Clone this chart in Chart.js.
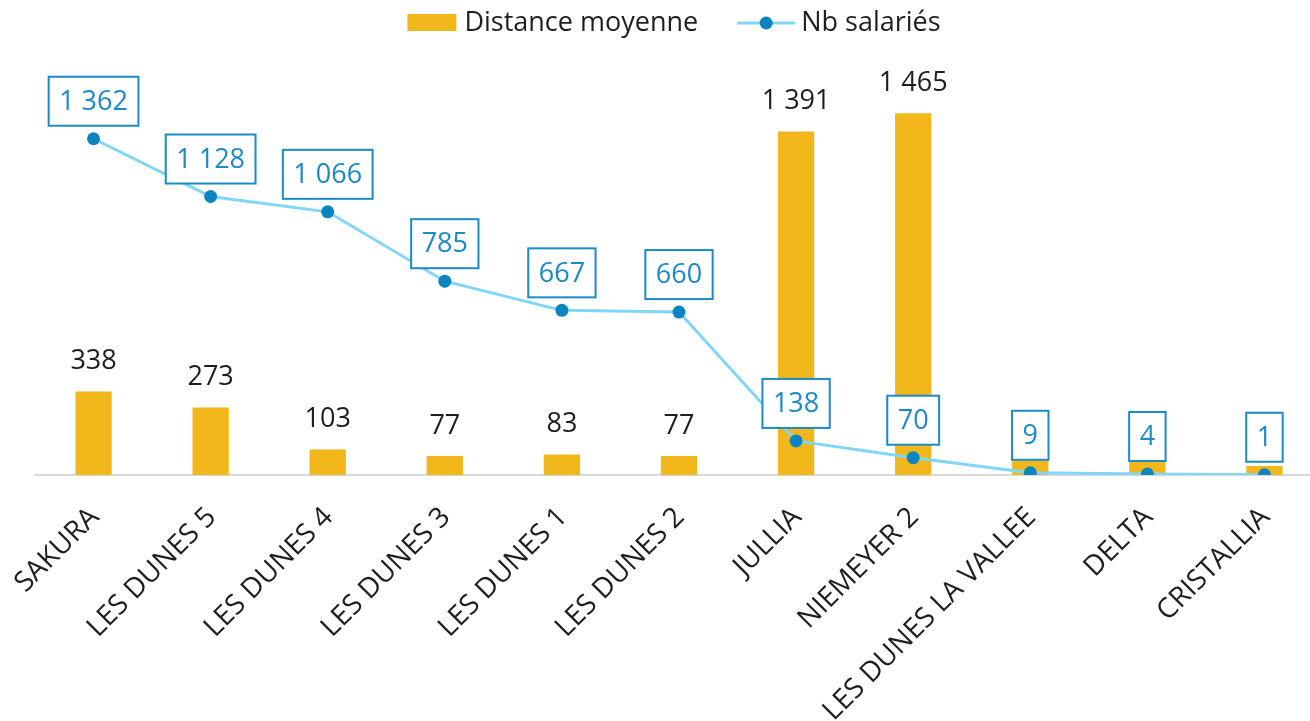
<!DOCTYPE html>
<html>
<head>
<meta charset="utf-8">
<script src="https://cdn.jsdelivr.net/npm/chart.js@4.4.1/dist/chart.umd.min.js"></script>
<style>
    html, body { margin: 0; padding: 0; background: #fff; overflow: hidden; }
    #wrap { width: 1330px; height: 721px; }
</style>
</head>
<body>
<div id="wrap"><canvas id="chart" width="1330" height="721"></canvas></div>
<script>
// Données du graphique
const sites = ['SAKURA', 'LES DUNES 5', 'LES DUNES 4', 'LES DUNES 3', 'LES DUNES 1', 'LES DUNES 2',
    'JULLIA', 'NIEMEYER 2', 'LES DUNES LA VALLEE', 'DELTA', 'CRISTALLIA'];
const distanceMoyenne = [338, 273, 103, 77, 83, 77, 1391, 1465, 60, 64, 36];
const nbSalaries = [1362, 1128, 1066, 785, 667, 660, 138, 70, 9, 4, 1];
const seriesNames = ['Distance moyenne', 'Nb salariés'];

const FONT = '"Open Sans", "DejaVu Sans", sans-serif';
const GOLD = '#f2b71b';
const LINE_BLUE = '#80d6f8';
const DOT_BLUE = '#0b85c1';
const BOX_BLUE = '#1a8bc7';

// format "1 362"
function fmt(v) {
    return String(v).replace(/\B(?=(\d{3})+(?!\d))/g, ' ');
}

// Etiquettes des valeurs (barres puis encadrés de la courbe)
const valueLabels = {
    id: 'valueLabels',
    afterDatasetsDraw(chart) {
        const ctx = chart.ctx;
        ctx.save();
        ctx.textAlign = 'center';
        ctx.textBaseline = 'middle';
        ctx.font = '27px ' + FONT;

        const barMeta = chart.getDatasetMeta(0);
        ctx.fillStyle = '#1e1e1e';
        barMeta.data.forEach((el, i) => {
            ctx.fillText(fmt(distanceMoyenne[i]), el.x, el.y - 30);
        });

        const lineMeta = chart.getDatasetMeta(1);
        lineMeta.data.forEach((el, i) => {
            const txt = fmt(nbSalaries[i]);
            const w = ctx.measureText(txt).width + 21;
            const h = 49;
            const bottom = el.y - 13;
            ctx.fillStyle = '#fff';
            ctx.fillRect(el.x - w / 2, bottom - h, w, h);
            ctx.strokeStyle = BOX_BLUE;
            ctx.lineWidth = 2;
            ctx.strokeRect(el.x - w / 2, bottom - h, w, h);
            ctx.fillStyle = BOX_BLUE;
            ctx.fillText(txt, el.x, bottom - h / 2 + 1);
        });
        ctx.restore();
    }
};

// Légende dessinée à la main (barre + ligne avec point)
const customLegend = {
    id: 'customLegend',
    afterDraw(chart) {
        const ctx = chart.ctx;
        const area = chart.chartArea;
        ctx.save();
        ctx.font = '27px ' + FONT;
        ctx.textBaseline = 'middle';
        const w1 = ctx.measureText(seriesNames[0]).width;
        const w2 = ctx.measureText(seriesNames[1]).width;
        const total = 49 + 8 + w1 + 39 + 58 + 6 + w2;
        let x = (area.left + area.right) / 2 - 5 - total / 2;
        const y = 23;

        ctx.fillStyle = GOLD;
        ctx.fillRect(x, y - 9, 49, 17);
        x += 49 + 8;
        ctx.fillStyle = '#1e1e1e';
        ctx.fillText(seriesNames[0], x, y);
        x += w1 + 39;

        ctx.strokeStyle = LINE_BLUE;
        ctx.lineWidth = 3;
        ctx.beginPath();
        ctx.moveTo(x, y);
        ctx.lineTo(x + 58, y);
        ctx.stroke();
        ctx.fillStyle = DOT_BLUE;
        ctx.beginPath();
        ctx.arc(x + 29, y, 6.5, 0, Math.PI * 2);
        ctx.fill();
        x += 58 + 6;
        ctx.fillStyle = '#1e1e1e';
        ctx.fillText(seriesNames[1], x, y);
        ctx.restore();
    }
};

const chart = new Chart(document.getElementById('chart'), {
    type: 'bar',
    data: {
        labels: sites,
        datasets: [{
            type: 'bar',
            label: seriesNames[0],
            data: distanceMoyenne,
            backgroundColor: GOLD,
            categoryPercentage: 1,
            barPercentage: 0.31,
            order: 2
        }, {
            type: 'line',
            label: seriesNames[1],
            data: nbSalaries,
            borderColor: LINE_BLUE,
            borderWidth: 3,
            pointRadius: 6.5,
            pointBackgroundColor: DOT_BLUE,
            pointBorderWidth: 0,
            tension: 0,
            order: 1
        }]
    },
    options: {
        responsive: false,
        devicePixelRatio: 1,
        animation: false,
        layout: { padding: { left: 35, right: 7, top: 80, bottom: 0 } },
        plugins: {
            legend: { display: false },
            tooltip: { enabled: false }
        },
        scales: {
            x: {
                offset: true,
                grid: { display: false, drawTicks: false },
                border: { display: true, color: '#d9d9d9', width: 2 },
                ticks: {
                    autoSkip: false,
                    maxRotation: 45,
                    minRotation: 45,
                    padding: 26,
                    labelOffset: 1,
                    color: '#1e1e1e',
                    font: { family: FONT, size: 28 }
                },
                afterFit(scale) {
                    scale.height = 246;
                    scale.paddingLeft = 0;
                    scale.paddingRight = 0;
                }
            },
            y: {
                display: false,
                min: 0,
                max: 1600
            }
        }
    },
    plugins: [valueLabels, customLegend]
});
</script>
</body>
</html>
